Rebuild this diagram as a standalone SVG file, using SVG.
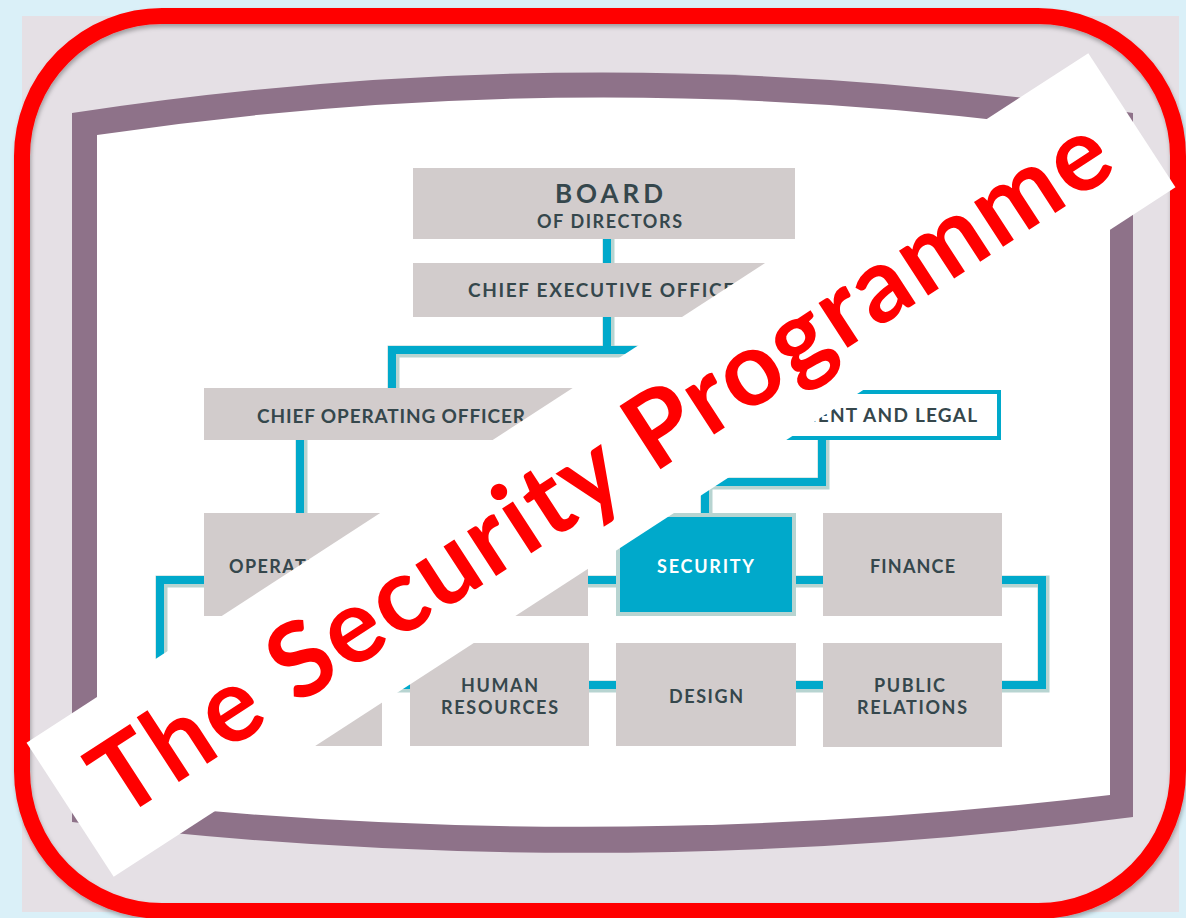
<svg xmlns="http://www.w3.org/2000/svg" width="1186" height="918" viewBox="0 0 1186 918">
<defs>
<style>
.box{fill:#d2cccc}
.lbl{font-family:Lato,"Open Sans","Liberation Sans",sans-serif;font-weight:700;fill:#35474c}
.wh{fill:#ffffff}
.halo{fill:none;stroke:#b7d4d1;stroke-width:12;stroke-linejoin:miter}
.line{fill:none;stroke:#00a9cb;stroke-width:8;stroke-linejoin:miter}
</style>
<filter id="sh" x="-5%" y="-5%" width="110%" height="110%">
<feDropShadow dx="1" dy="3" stdDeviation="2" flood-color="#000" flood-opacity="0.3"/>
</filter>
</defs>
<rect x="0" y="0" width="1186" height="918" fill="#daf0f8"/>
<rect x="22" y="16" width="1157" height="896" fill="#e5e0e5"/>
<g id="frame">
<path d="M72,113 Q602,32 1133,113 L1133,817 Q602,886 72,822 Z" fill="#8e7289"/>
<path d="M97,135 Q603,60 1110,135 L1110,795 Q603,856 97,800 Z" fill="#ffffff"/>
</g>
<g id="connectors">
<g transform="translate(1.5,1.5)">
<path class="halo" d="M607,236 V266"/>
<path class="halo" d="M607,314 V350 H392 V391 M607,350 H822 V392"/>
<path class="halo" d="M822,438 V482 H705 V516"/>
<path class="halo" d="M300,437 V516"/>
<path class="halo" d="M160,580 H1042 V685 H160 Z"/>
</g>
<path class="line" d="M607,236 V266"/>
<path class="line" d="M607,314 V350 H392 V391 M607,350 H822 V392"/>
<path class="line" d="M822,438 V482 H705 V516"/>
<path class="line" d="M300,437 V516"/>
<path class="line" d="M160,580 H1042 V685 H160 Z"/>
</g>
<g id="board">
<rect class="box" x="413" y="168" width="382" height="71"/>
<text class="lbl" x="555" y="203" font-size="26" textLength="108">BOARD</text>
<text class="lbl" x="537" y="228" font-size="18" textLength="145">OF DIRECTORS</text>
</g>
<g id="ceo">
<rect class="box" x="413" y="263" width="382" height="54"/>
<text class="lbl" x="468" y="297" font-size="19" textLength="280">CHIEF EXECUTIVE OFFICER</text>
</g>
<g id="coo">
<rect class="box" x="204" y="388" width="381" height="52"/>
<text class="lbl" x="257" y="423" font-size="19" textLength="268">CHIEF OPERATING OFFICER</text>
</g>
<g id="risk">
<rect x="621" y="392" width="378" height="46" fill="#ffffff" stroke="#00a9cb" stroke-width="4"/>
<text class="lbl" x="977" y="422" font-size="19" text-anchor="end" textLength="269">MANAGEMENT AND LEGAL</text>
</g>
<g id="operations">
<rect class="box" x="204" y="513" width="178" height="103"/>
<text class="lbl" x="229" y="573" font-size="18" textLength="126">OPERATIONS</text>
</g>
<g id="dept2">
<rect class="box" x="410" y="513" width="178" height="103"/>
</g>
<g id="security">
<rect x="618" y="515" width="176" height="99" fill="#00a9cb" stroke="#b7d4d1" stroke-width="4"/>
<text class="lbl wh" x="657" y="573" font-size="18" textLength="97">SECURITY</text>
</g>
<g id="finance">
<rect class="box" x="823" y="513" width="179" height="103"/>
<text class="lbl" x="870" y="573" font-size="18" textLength="85">FINANCE</text>
</g>
<g id="dept6">
<rect class="box" x="204" y="643" width="178" height="103"/>
</g>
<g id="hr">
<rect class="box" x="410" y="643" width="179" height="103"/>
<text class="lbl" x="461" y="692" font-size="18" textLength="77">HUMAN</text>
<text class="lbl" x="441" y="714" font-size="18" textLength="117">RESOURCES</text>
</g>
<g id="design">
<rect class="box" x="616" y="643" width="180" height="103"/>
<text class="lbl" x="669" y="703" font-size="18" textLength="74">DESIGN</text>
</g>
<g id="pr">
<rect class="box" x="823" y="643" width="179" height="104"/>
<text class="lbl" x="874" y="692" font-size="18" textLength="71">PUBLIC</text>
<text class="lbl" x="857" y="714" font-size="18" textLength="110">RELATIONS</text>
</g>
<rect id="border" x="22" y="16" width="1156" height="895" rx="140" fill="none" stroke="#ff0000" stroke-width="16" filter="url(#sh)"/>
<g id="banner" transform="translate(601,465) rotate(-33)">
<rect x="-633" y="-80" width="1266" height="160" fill="#ffffff"/>
<text x="-597" y="36" font-family="Lato,'Open Sans','Liberation Sans',sans-serif" font-weight="700" font-size="104" fill="#ff0000" textLength="1192">The Security Programme</text>
</g>
</svg>
